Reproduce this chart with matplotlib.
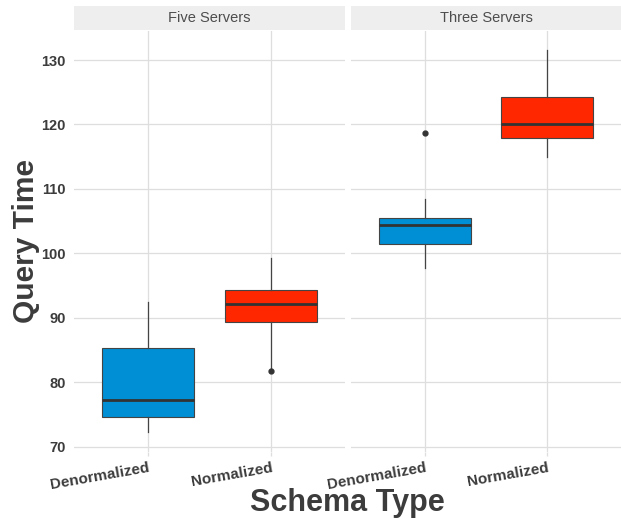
import matplotlib
matplotlib.use("Agg")
import matplotlib.pyplot as plt

plt.rcParams['font.family'] = ['Liberation Sans', 'DejaVu Sans']

panels = ["Five Servers", "Three Servers"]
categories = ["Denormalized", "Normalized"]
colors = ["#008FD5", "#FF2700"]

# box stats per panel: [Denormalized, Normalized]
whislo = [[72.3, 82.2], [97.8, 115.0]]
q1 = [[74.7, 89.4], [101.4, 117.9]]
med = [[77.3, 92.2], [104.4, 120.0]]
q3 = [[85.3, 94.3], [105.5, 124.2]]
whishi = [[92.5, 99.3], [108.5, 131.5]]
fliers = [[[], [81.8]], [[118.7], []]]

yticks = [70, 80, 90, 100, 110, 120, 130]

fig = plt.figure(figsize=(6.21, 5.19), dpi=100)
W, H = 621, 519
bottom = 1 - 452 / H
top = 1 - 31 / H
lefts = [74 / W, 351 / W]
rights = [345 / W, 621 / W]

grid_c = "#DEDEDE"
text_c = "#3C3C3C"

for p in range(2):
    ax = fig.add_axes([lefts[p], bottom, rights[p] - lefts[p], top - bottom])
    stats = []
    for i in range(2):
        stats.append(dict(whislo=whislo[p][i], q1=q1[p][i], med=med[p][i],
                          q3=q3[p][i], whishi=whishi[p][i], fliers=fliers[p][i]))
    bp = ax.bxp(stats, positions=[1, 2], widths=0.75, patch_artist=True,
                showcaps=False,
                boxprops=dict(edgecolor="#444444", linewidth=0.8),
                whiskerprops=dict(color="#444444", linewidth=0.9),
                medianprops=dict(color="#333333", linewidth=2.0),
                flierprops=dict(marker='o', markerfacecolor="#333333",
                                markeredgecolor="#333333", markersize=3.5))
    for patch, c in zip(bp['boxes'], colors):
        patch.set_facecolor(c)
    for z in bp['boxes'] + bp['whiskers'] + bp['medians'] + bp['fliers']:
        z.set_zorder(3)
    ax.set_xlim(0.4, 2.6)
    ax.set_ylim(69.2, 134.5)
    ax.set_yticks(yticks)
    ax.set_xticks([1, 2])
    ax.set_xticklabels(categories, rotation=10, ha='right', rotation_mode='anchor',
                       fontsize=11, fontweight='bold', color=text_c)
    ax.grid(True, color=grid_c, linewidth=0.9)
    ax.set_axisbelow(True)
    for s in ax.spines.values():
        s.set_visible(False)
    ax.tick_params(axis='both', length=3, color=grid_c, width=0.9)
    ax.tick_params(axis='x', pad=3)
    if p == 0:
        ax.set_yticklabels([str(t) for t in yticks], fontsize=10.5,
                           fontweight='bold', color=text_c)
        ax.tick_params(axis='y', length=0, pad=6)
    else:
        ax.tick_params(axis='y', length=0, labelleft=False)
    # strip
    sax = fig.add_axes([lefts[p], 1 - 30 / H, rights[p] - lefts[p], 24 / H])
    sax.set_facecolor("#EEEEEE")
    sax.set_xticks([])
    sax.set_yticks([])
    for s in sax.spines.values():
        s.set_visible(False)
    sax.text(0.5, 0.5, panels[p], ha='center', va='center', fontsize=10.5,
             color="#4D4D4D", transform=sax.transAxes)

fig.text(26 / W, 1 - 241 / H, "Query Time", rotation=90, ha='center', va='center',
         fontsize=21.5, fontweight='bold', color=text_c)
fig.text(347 / W, 1 - 503 / H, "Schema Type", ha='center', va='center',
         fontsize=22, fontweight='bold', color=text_c)

fig.savefig("out.png", dpi=100)
